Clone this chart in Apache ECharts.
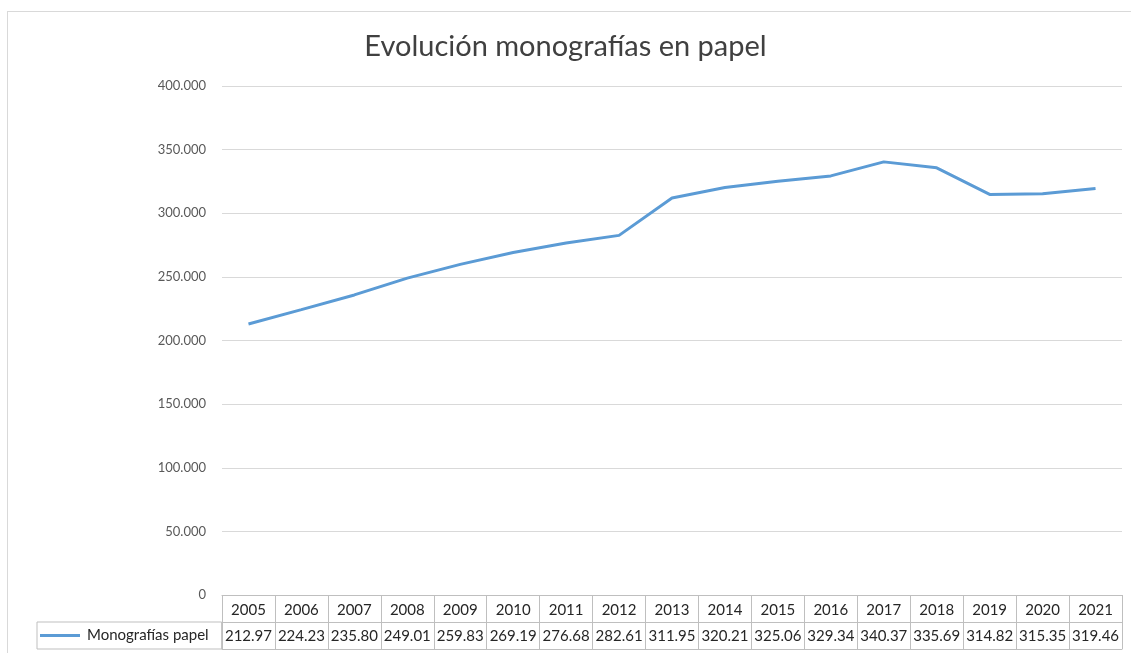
<!DOCTYPE html>
<html>
<head>
<meta charset="utf-8">
<script src="https://cdn.jsdelivr.net/npm/echarts@6/dist/echarts.min.js"></script>
<style>
  html, body { margin: 0; padding: 0; background: #fff; }
  #container { width: 1131px; height: 653px; }
  .frame {
    position: absolute; left: 7px; top: 11px; width: 1200px; height: 700px;
    border: 1px solid #d9d9d9; pointer-events: none;
  }
</style>
</head>
<body>
<div id="container"></div>
<div class="frame"></div>
<script>
// data
const years = ['2005', '2006', '2007', '2008', '2009', '2010', '2011', '2012', '2013',
  '2014', '2015', '2016', '2017', '2018', '2019', '2020', '2021'];
const monografias = [212970, 224230, 235800, 249010, 259830, 269190, 276680, 282610, 311950,
  320210, 325060, 329340, 340370, 335690, 314820, 315350, 319460];
const seriesName = 'Monografías papel';
const yMin = 0, yMax = 400000, yStep = 50000;

const FONT = 'Lato, "Liberation Sans", sans-serif';
const GREY = '#595959';
const BORDER = '#bfbfbf';

function thousands(v) {
  return String(v).replace(/\B(?=(\d{3})+(?!\d))/g, '.');
}

const dom = document.getElementById('container');
const myChart = echarts.init(dom, null, { renderer: 'canvas' });

const option = {
  animation: false,
  textStyle: { fontFamily: FONT },
  title: {
    text: 'Evolución monografías en papel',
    left: 'center',
    top: 27,
    padding: [5, 0, 5, 22],
    textStyle: { fontFamily: FONT, fontSize: 29, fontWeight: 'normal', color: '#404040' }
  },
  legend: {
    data: [{ name: seriesName, icon: 'rect' }],
    left: 37,
    top: 622,
    itemWidth: 40,
    itemHeight: 3,
    itemGap: 0,
    padding: [6, 13, 6, 3],
    borderColor: BORDER,
    borderWidth: 1,
    borderRadius: 0,
    textStyle: { fontFamily: FONT, fontSize: 15, color: '#262626', padding: [0, 0, 0, 2] }
  },
  grid: { left: 222, right: 9, top: 86, bottom: 58, containLabel: false },
  yAxis: {
    type: 'value',
    min: yMin,
    max: yMax,
    interval: yStep,
    axisLine: { show: false },
    axisTick: { show: false },
    splitLine: { lineStyle: { color: '#d9d9d9', width: 1 } },
    axisLabel: { margin: 16, color: GREY, fontSize: 13, formatter: thousands }
  },
  xAxis: [
    {
      type: 'category',
      data: years,
      position: 'bottom',
      axisLine: { lineStyle: { color: BORDER } },
      axisTick: { show: true, length: 54, lineStyle: { color: BORDER } },
      axisLabel: { interval: 0, margin: 8, color: '#262626', fontSize: 15 }
    },
    {
      type: 'category',
      data: years,
      position: 'bottom',
      offset: 27,
      axisLine: { lineStyle: { color: BORDER } },
      axisTick: { show: false },
      axisLabel: {
        interval: 0, margin: 7, color: '#262626', fontSize: 15,
        formatter: (v, i) => (monografias[i] / 1000).toFixed(2)
      }
    },
    {
      type: 'category',
      data: years,
      position: 'bottom',
      offset: 54,
      axisLine: { lineStyle: { color: BORDER } },
      axisTick: { show: false },
      axisLabel: { show: false }
    }
  ],
  series: [
    {
      name: seriesName,
      type: 'line',
      xAxisIndex: 0,
      data: monografias,
      symbol: 'none',
      lineStyle: { color: '#5b9bd5', width: 3 },
      itemStyle: { color: '#5b9bd5' }
    }
  ]
};

myChart.setOption(option);
window.addEventListener('resize', myChart.resize);
</script>
</body>
</html>
